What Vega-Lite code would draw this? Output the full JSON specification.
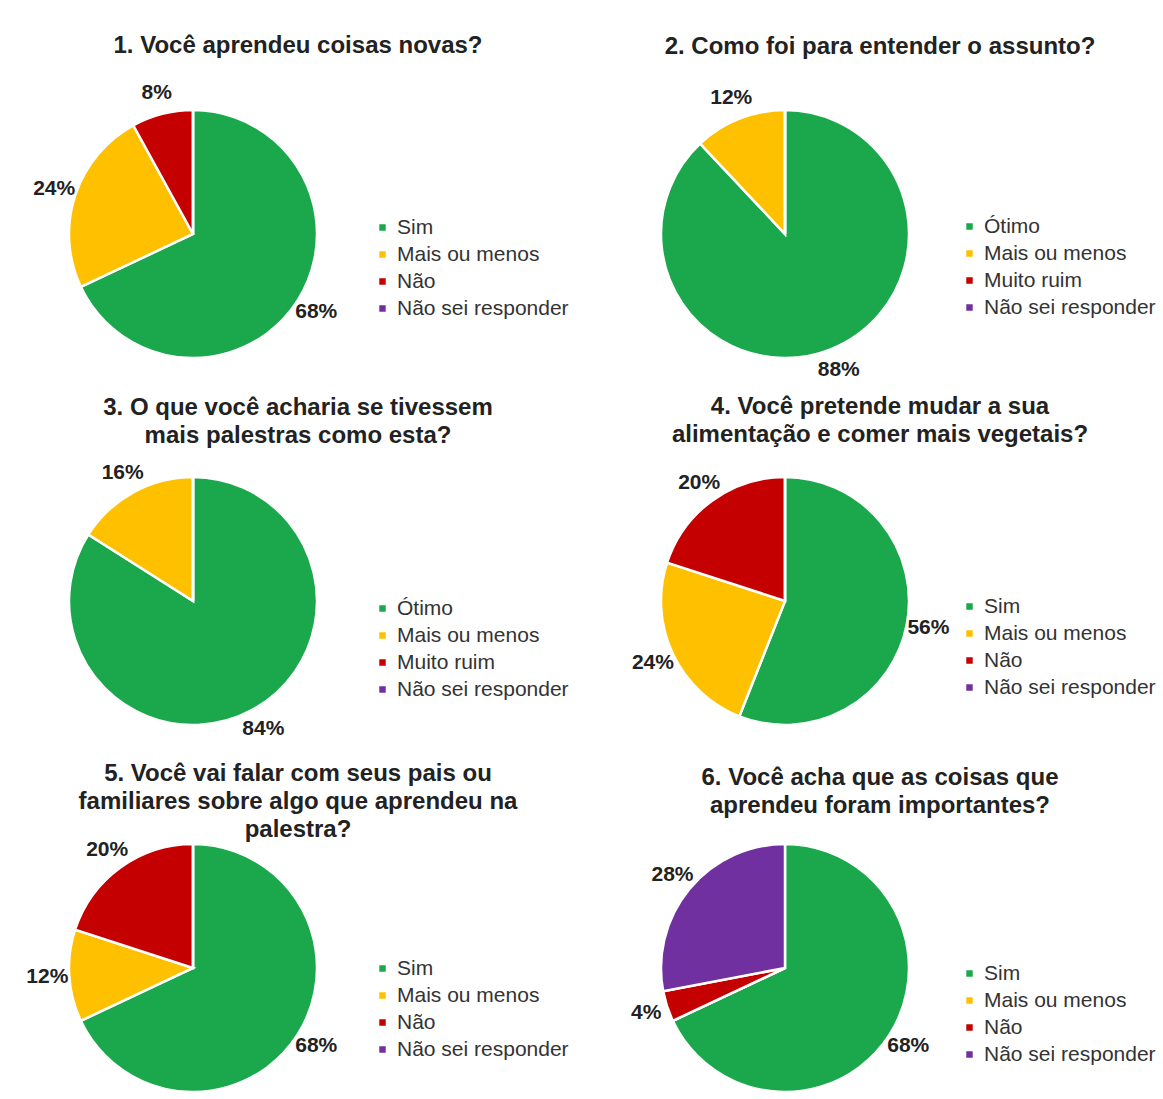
{
  "$schema": "https://vega.github.io/schema/vega-lite/v6.json",
  "background": "white",
  "padding": {"left": 13, "top": 34, "right": 5, "bottom": 0},
  "columns": 2,
  "spacing": {"row": 47, "column": 232},
  "bounds": "flush",
  "resolve": {"scale": {"color": "independent", "theta": "independent"}, "legend": {"color": "independent"}},
  "config": {
    "view": {"stroke": null},
    "font": "Liberation Sans",
    "title": {"fontSize": 24, "fontWeight": "bold", "color": "#222222", "lineHeight": 28, "anchor": "middle", "baseline": "bottom", "frame": "group"},
    "legend": {"orient": "none", "labelFontSize": 21, "labelColor": "#333333", "labelFont": "Liberation Sans", "labelLimit": 400, "symbolType": "square", "symbolSize": 80, "rowPadding": 5, "labelOffset": 4, "padding": 0, "symbolStrokeWidth": 0},
    "arc": {"outerRadius": 124, "stroke": "white", "strokeWidth": 2.5},
    "text": {"radius": 146, "fontSize": 21, "fontWeight": "bold", "color": "#222222"}
  },
  "concat": [
    {
      "width": 360, "height": 320,
      "title": {"text": "1. Você aprendeu coisas novas?", "dx": 105, "offset": 16},
      "data": {"values": [
        {"resposta": "Sim", "ordem": 1, "pct": 0.68},
        {"resposta": "Mais ou menos", "ordem": 2, "pct": 0.24},
        {"resposta": "Não", "ordem": 3, "pct": 0.08},
        {"resposta": "Não sei responder", "ordem": 4, "pct": 0}
      ]},
      "layer": [
        {"mark": {"type": "arc"},
         "encoding": {
           "theta": {"field": "pct", "type": "quantitative", "stack": true},
           "order": {"field": "ordem", "type": "quantitative"},
           "color": {"field": "resposta", "type": "nominal",
             "scale": {"domain": ["Sim", "Mais ou menos", "Não", "Não sei responder"], "range": ["#1BA84C", "#FFC000", "#C40000", "#7030A0"]},
             "legend": {"title": null, "legendX": 359, "legendY": 143}}
         }},
        {"transform": [{"filter": "datum.pct > 0"}],
         "mark": {"type": "text"},
         "encoding": {
           "theta": {"field": "pct", "type": "quantitative", "stack": true},
           "order": {"field": "ordem", "type": "quantitative"},
           "text": {"field": "pct", "type": "quantitative", "format": ".0%"}
         }}
      ]
    },
    {
      "width": 360, "height": 320,
      "title": {"text": "2. Como foi para entender o assunto?", "dx": 95, "offset": 15},
      "data": {"values": [
        {"resposta": "Ótimo", "ordem": 1, "pct": 0.88},
        {"resposta": "Mais ou menos", "ordem": 2, "pct": 0.12},
        {"resposta": "Muito ruim", "ordem": 3, "pct": 0},
        {"resposta": "Não sei responder", "ordem": 4, "pct": 0}
      ]},
      "layer": [
        {"mark": {"type": "arc"},
         "encoding": {
           "theta": {"field": "pct", "type": "quantitative", "stack": true},
           "order": {"field": "ordem", "type": "quantitative"},
           "color": {"field": "resposta", "type": "nominal",
             "scale": {"domain": ["Ótimo", "Mais ou menos", "Muito ruim", "Não sei responder"], "range": ["#1BA84C", "#FFC000", "#C40000", "#7030A0"]},
             "legend": {"title": null, "legendX": 354, "legendY": 142}}
         }},
        {"transform": [{"filter": "datum.pct > 0"}],
         "mark": {"type": "text"},
         "encoding": {
           "theta": {"field": "pct", "type": "quantitative", "stack": true},
           "order": {"field": "ordem", "type": "quantitative"},
           "text": {"field": "pct", "type": "quantitative", "format": ".0%"}
         }}
      ]
    },
    {
      "width": 360, "height": 320,
      "title": {"text": ["3. O que você acharia se tivessem", "mais palestras como esta?"], "dx": 105, "offset": -7},
      "data": {"values": [
        {"resposta": "Ótimo", "ordem": 1, "pct": 0.84},
        {"resposta": "Mais ou menos", "ordem": 2, "pct": 0.16},
        {"resposta": "Muito ruim", "ordem": 3, "pct": 0},
        {"resposta": "Não sei responder", "ordem": 4, "pct": 0}
      ]},
      "layer": [
        {"mark": {"type": "arc"},
         "encoding": {
           "theta": {"field": "pct", "type": "quantitative", "stack": true},
           "order": {"field": "ordem", "type": "quantitative"},
           "color": {"field": "resposta", "type": "nominal",
             "scale": {"domain": ["Ótimo", "Mais ou menos", "Muito ruim", "Não sei responder"], "range": ["#1BA84C", "#FFC000", "#C40000", "#7030A0"]},
             "legend": {"title": null, "legendX": 359, "legendY": 157}}
         }},
        {"transform": [{"filter": "datum.pct > 0"}],
         "mark": {"type": "text"},
         "encoding": {
           "theta": {"field": "pct", "type": "quantitative", "stack": true},
           "order": {"field": "ordem", "type": "quantitative"},
           "text": {"field": "pct", "type": "quantitative", "format": ".0%"}
         }}
      ]
    },
    {
      "width": 360, "height": 320,
      "title": {"text": ["4. Você pretende mudar a sua", "alimentação e comer mais vegetais?"], "dx": 95, "offset": -6},
      "data": {"values": [
        {"resposta": "Sim", "ordem": 1, "pct": 0.56},
        {"resposta": "Mais ou menos", "ordem": 2, "pct": 0.24},
        {"resposta": "Não", "ordem": 3, "pct": 0.20},
        {"resposta": "Não sei responder", "ordem": 4, "pct": 0}
      ]},
      "layer": [
        {"mark": {"type": "arc"},
         "encoding": {
           "theta": {"field": "pct", "type": "quantitative", "stack": true},
           "order": {"field": "ordem", "type": "quantitative"},
           "color": {"field": "resposta", "type": "nominal",
             "scale": {"domain": ["Sim", "Mais ou menos", "Não", "Não sei responder"], "range": ["#1BA84C", "#FFC000", "#C40000", "#7030A0"]},
             "legend": {"title": null, "legendX": 354, "legendY": 155}}
         }},
        {"transform": [{"filter": "datum.pct > 0"}],
         "mark": {"type": "text"},
         "encoding": {
           "theta": {"field": "pct", "type": "quantitative", "stack": true},
           "order": {"field": "ordem", "type": "quantitative"},
           "text": {"field": "pct", "type": "quantitative", "format": ".0%"}
         }}
      ]
    },
    {
      "width": 360, "height": 320,
      "title": {"text": ["5. Você vai falar com seus pais ou", "familiares sobre algo que aprendeu na", "palestra?"], "dx": 105, "offset": -34},
      "data": {"values": [
        {"resposta": "Sim", "ordem": 1, "pct": 0.68},
        {"resposta": "Mais ou menos", "ordem": 2, "pct": 0.12},
        {"resposta": "Não", "ordem": 3, "pct": 0.20},
        {"resposta": "Não sei responder", "ordem": 4, "pct": 0}
      ]},
      "layer": [
        {"mark": {"type": "arc"},
         "encoding": {
           "theta": {"field": "pct", "type": "quantitative", "stack": true},
           "order": {"field": "ordem", "type": "quantitative"},
           "color": {"field": "resposta", "type": "nominal",
             "scale": {"domain": ["Sim", "Mais ou menos", "Não", "Não sei responder"], "range": ["#1BA84C", "#FFC000", "#C40000", "#7030A0"]},
             "legend": {"title": null, "legendX": 359, "legendY": 150}}
         }},
        {"transform": [{"filter": "datum.pct > 0"}],
         "mark": {"type": "text"},
         "encoding": {
           "theta": {"field": "pct", "type": "quantitative", "stack": true},
           "order": {"field": "ordem", "type": "quantitative"},
           "text": {"field": "pct", "type": "quantitative", "format": ".0%"}
         }}
      ]
    },
    {
      "width": 360, "height": 320,
      "title": {"text": ["6. Você acha que as coisas que", "aprendeu foram importantes?"], "dx": 95, "offset": -10},
      "data": {"values": [
        {"resposta": "Sim", "ordem": 1, "pct": 0.68},
        {"resposta": "Mais ou menos", "ordem": 2, "pct": 0},
        {"resposta": "Não", "ordem": 3, "pct": 0.04},
        {"resposta": "Não sei responder", "ordem": 4, "pct": 0.28}
      ]},
      "layer": [
        {"mark": {"type": "arc"},
         "encoding": {
           "theta": {"field": "pct", "type": "quantitative", "stack": true},
           "order": {"field": "ordem", "type": "quantitative"},
           "color": {"field": "resposta", "type": "nominal",
             "scale": {"domain": ["Sim", "Mais ou menos", "Não", "Não sei responder"], "range": ["#1BA84C", "#FFC000", "#C40000", "#7030A0"]},
             "legend": {"title": null, "legendX": 354, "legendY": 155}}
         }},
        {"transform": [{"filter": "datum.pct > 0"}],
         "mark": {"type": "text"},
         "encoding": {
           "theta": {"field": "pct", "type": "quantitative", "stack": true},
           "order": {"field": "ordem", "type": "quantitative"},
           "text": {"field": "pct", "type": "quantitative", "format": ".0%"}
         }}
      ]
    }
  ]
}
